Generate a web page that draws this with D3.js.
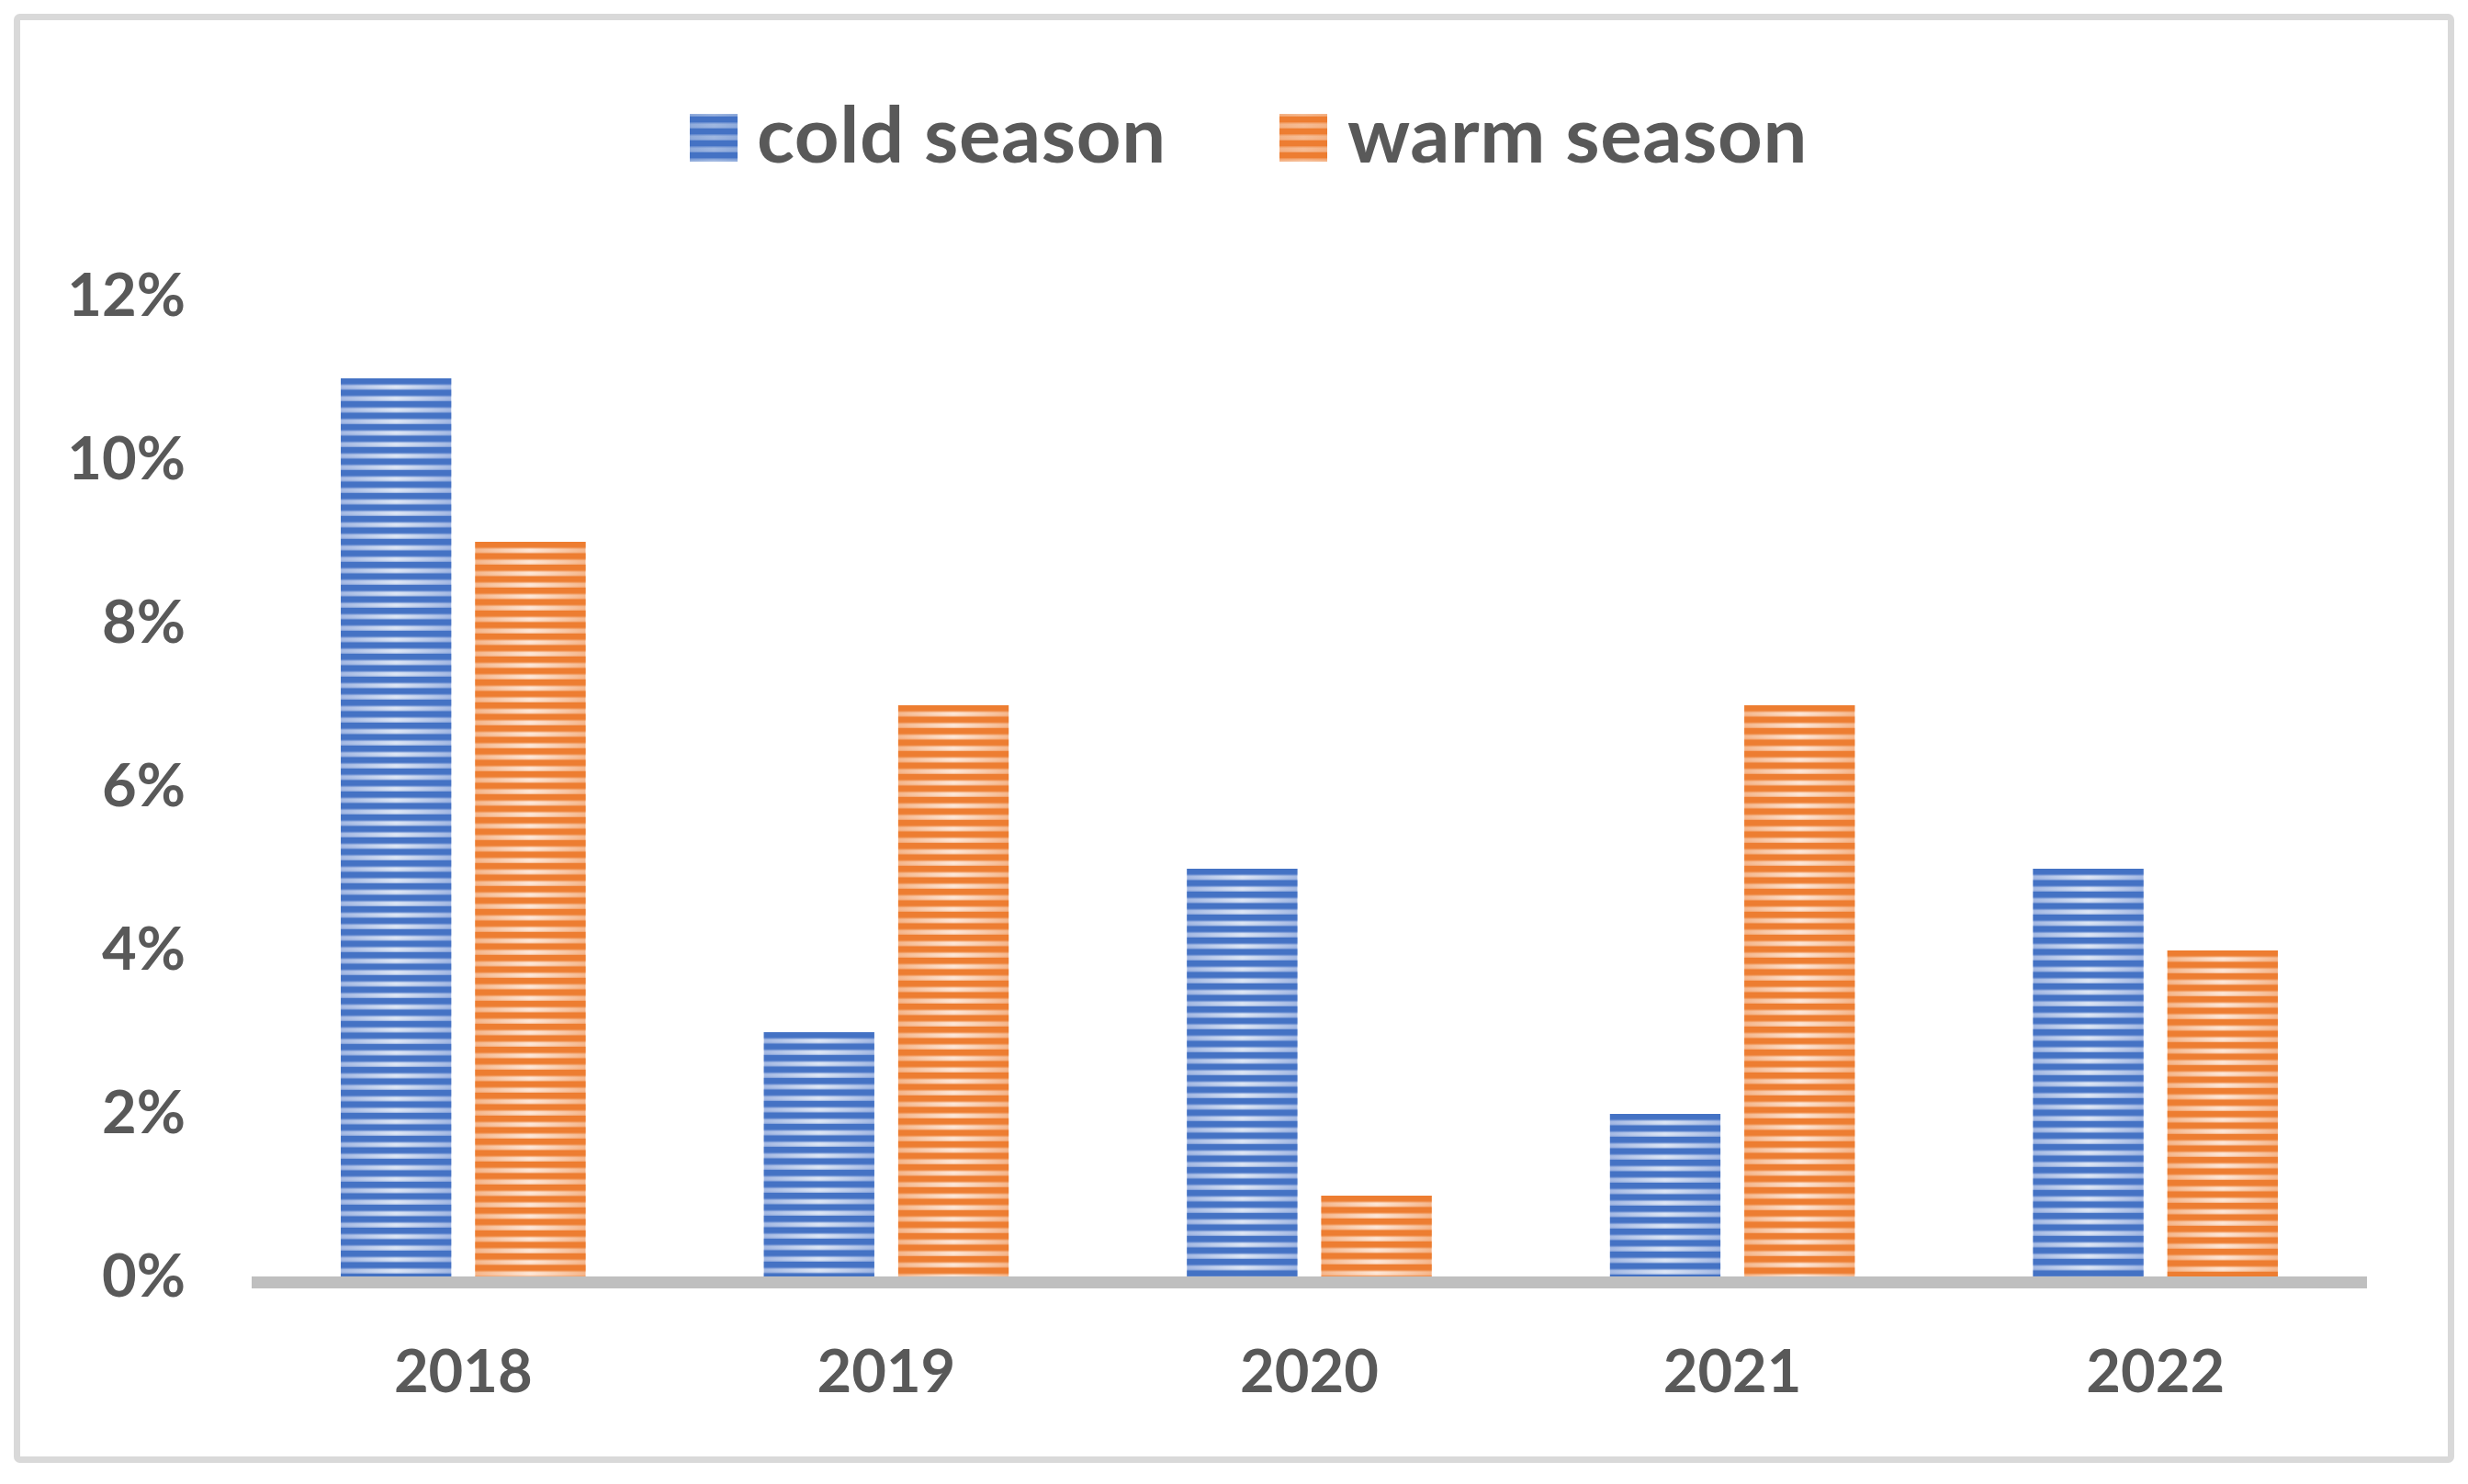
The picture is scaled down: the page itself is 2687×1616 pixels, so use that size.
<!DOCTYPE html>
<html>
<head>
<meta charset="utf-8">
<script src="https://cdn.jsdelivr.net/npm/d3@7"></script>
<style>
  html, body { margin: 0; padding: 0; background: #ffffff; }
  svg { display: block; }
</style>
</head>
<body>
<svg id="chart" width="2687" height="1616"></svg>
<script>
// ---- data ----
const years = ["2018", "2019", "2020", "2021", "2022"];
const seriesNames = ["cold season", "warm season"];
const coldValues = [11, 3, 5, 2, 5];
const warmValues = [9, 7, 1, 7, 4];
const yTicks = [0, 2, 4, 6, 8, 10, 12];

// ---- styles ----
const palette = {
  "cold season": { dark: "#4472c4", edge: "#a3b8e3", center: "#dde6f5", legendLight: "#8eaadb" },
  "warm season": { dark: "#ed7d31", edge: "#f5b68b", center: "#fde7d8", legendLight: "#f4b183" }
};
const textColor = "#595959";
const fontFamily = "Lato, 'Open Sans', sans-serif";

const svg = d3.select("#chart");
const defs = svg.append("defs");

// frame
svg.append("rect")
  .attr("x", 18.5).attr("y", 18.5)
  .attr("width", 2650).attr("height", 1571)
  .attr("rx", 3)
  .attr("fill", "#ffffff")
  .attr("stroke", "#d9d9d9")
  .attr("stroke-width", 7);

// scales
const x0 = d3.scaleBand().domain(years).range([274, 2577]).paddingInner(0).paddingOuter(0);
const bw = x0.bandwidth();
const x1 = d3.scaleBand().domain(seriesNames)
  .range([bw * 0.2107, bw * 0.7893]).paddingInner(0.178).paddingOuter(0);
const y = d3.scaleLinear().domain([0, 12]).range([1391, 323]);

// gradients per series
seriesNames.forEach((s, i) => {
  const g = defs.append("linearGradient")
    .attr("id", "grad" + i)
    .attr("x1", "0").attr("x2", "1").attr("y1", "0").attr("y2", "0");
  g.append("stop").attr("offset", "0").attr("stop-color", palette[s].edge);
  g.append("stop").attr("offset", "0.5").attr("stop-color", palette[s].center);
  g.append("stop").attr("offset", "1").attr("stop-color", palette[s].edge);
});

const period = 12.5;
function makeStripePattern(id, color, top, p) {
  const pat = defs.append("pattern")
    .attr("id", id)
    .attr("patternUnits", "userSpaceOnUse")
    .attr("x", 0).attr("y", top)
    .attr("width", 4).attr("height", p);
  pat.append("rect").attr("x", 0).attr("y", 0).attr("width", 4).attr("height", 6.5)
    .attr("fill", color);
  pat.append("rect").attr("x", 0).attr("y", 6.5).attr("width", 4).attr("height", 1.2)
    .attr("fill", color).attr("fill-opacity", 0.35);
  pat.append("rect").attr("x", 0).attr("y", p - 1.2).attr("width", 4).attr("height", 1.2)
    .attr("fill", color).attr("fill-opacity", 0.35);
}

// bar data
const bars = [];
years.forEach((yr, j) => {
  bars.push({ year: yr, series: seriesNames[0], si: 0, value: coldValues[j] });
  bars.push({ year: yr, series: seriesNames[1], si: 1, value: warmValues[j] });
});

bars.forEach((d, k) => {
  makeStripePattern("stripe" + k, palette[d.series].dark, y(d.value), period);
});

const barG = svg.append("g");
const groups = barG.selectAll("g.bar").data(bars).join("g").attr("class", "bar");
groups.append("rect")
  .attr("x", d => x0(d.year) + x1(d.series))
  .attr("y", d => y(d.value))
  .attr("width", x1.bandwidth())
  .attr("height", d => y(0) - y(d.value))
  .attr("fill", d => "url(#grad" + d.si + ")");
groups.append("rect")
  .attr("x", d => x0(d.year) + x1(d.series))
  .attr("y", d => y(d.value))
  .attr("width", x1.bandwidth())
  .attr("height", d => y(0) - y(d.value))
  .attr("fill", (d, k) => "url(#stripe" + k + ")");

// axis line (baseline)
svg.append("rect")
  .attr("x", x0.range()[0])
  .attr("y", y(0) - 1)
  .attr("width", x0.range()[1] - x0.range()[0])
  .attr("height", 13)
  .attr("fill", "#bfbfbf");

// y axis labels via d3 axis
const yAxis = d3.axisLeft(y).tickValues(yTicks).tickFormat(d => d + "%").tickSize(0).tickPadding(0);
const yg = svg.append("g").attr("transform", "translate(202,0)").call(yAxis);
yg.select(".domain").remove();
yg.selectAll("text")
  .attr("fill", textColor)
  .attr("font-family", fontFamily)
  .attr("font-weight", 700)
  .attr("font-size", 65)
  .attr("dy", "0.33em")
  .attr("y", -1);

// x axis labels via d3 axis
const xAxis = d3.axisBottom(x0).tickSize(0).tickPadding(0);
const xg = svg.append("g").attr("transform", "translate(0,1516)").call(xAxis);
xg.select(".domain").remove();
xg.selectAll("text")
  .attr("fill", textColor)
  .attr("font-family", fontFamily)
  .attr("font-weight", 700)
  .attr("font-size", 65)
  .attr("dy", 0);

// legend
const legendItems = [
  { name: seriesNames[0], si: 0, sx: 751, tx: 824 },
  { name: seriesNames[1], si: 1, sx: 1393, tx: 1467 }
];
legendItems.forEach(it => {
  const s = palette[it.name];
  const lg = defs.append("linearGradient").attr("id", "lgrad" + it.si)
    .attr("x1", "0").attr("x2", "1").attr("y1", "0").attr("y2", "0");
  lg.append("stop").attr("offset", "0").attr("stop-color", s.legendLight);
  lg.append("stop").attr("offset", "0.5").attr("stop-color", s.legendLight).attr("stop-opacity", 0.85);
  lg.append("stop").attr("offset", "1").attr("stop-color", s.legendLight);
  makeStripePattern("lstripe" + it.si, s.dark, 127, 13);
});
const leg = svg.append("g").selectAll("g").data(legendItems).join("g");
leg.append("rect").attr("x", d => d.sx).attr("y", 124).attr("width", 52).attr("height", 52)
  .attr("fill", d => "url(#lgrad" + d.si + ")");
leg.append("rect").attr("x", d => d.sx).attr("y", 124).attr("width", 52).attr("height", 52)
  .attr("fill", d => "url(#lstripe" + d.si + ")");
leg.append("text")
  .attr("x", d => d.tx).attr("y", 177)
  .attr("fill", textColor)
  .attr("font-family", fontFamily)
  .attr("font-weight", 700)
  .attr("font-size", 85)
  .attr("letter-spacing", 0.6)
  .text(d => d.name);
</script>
</body>
</html>
